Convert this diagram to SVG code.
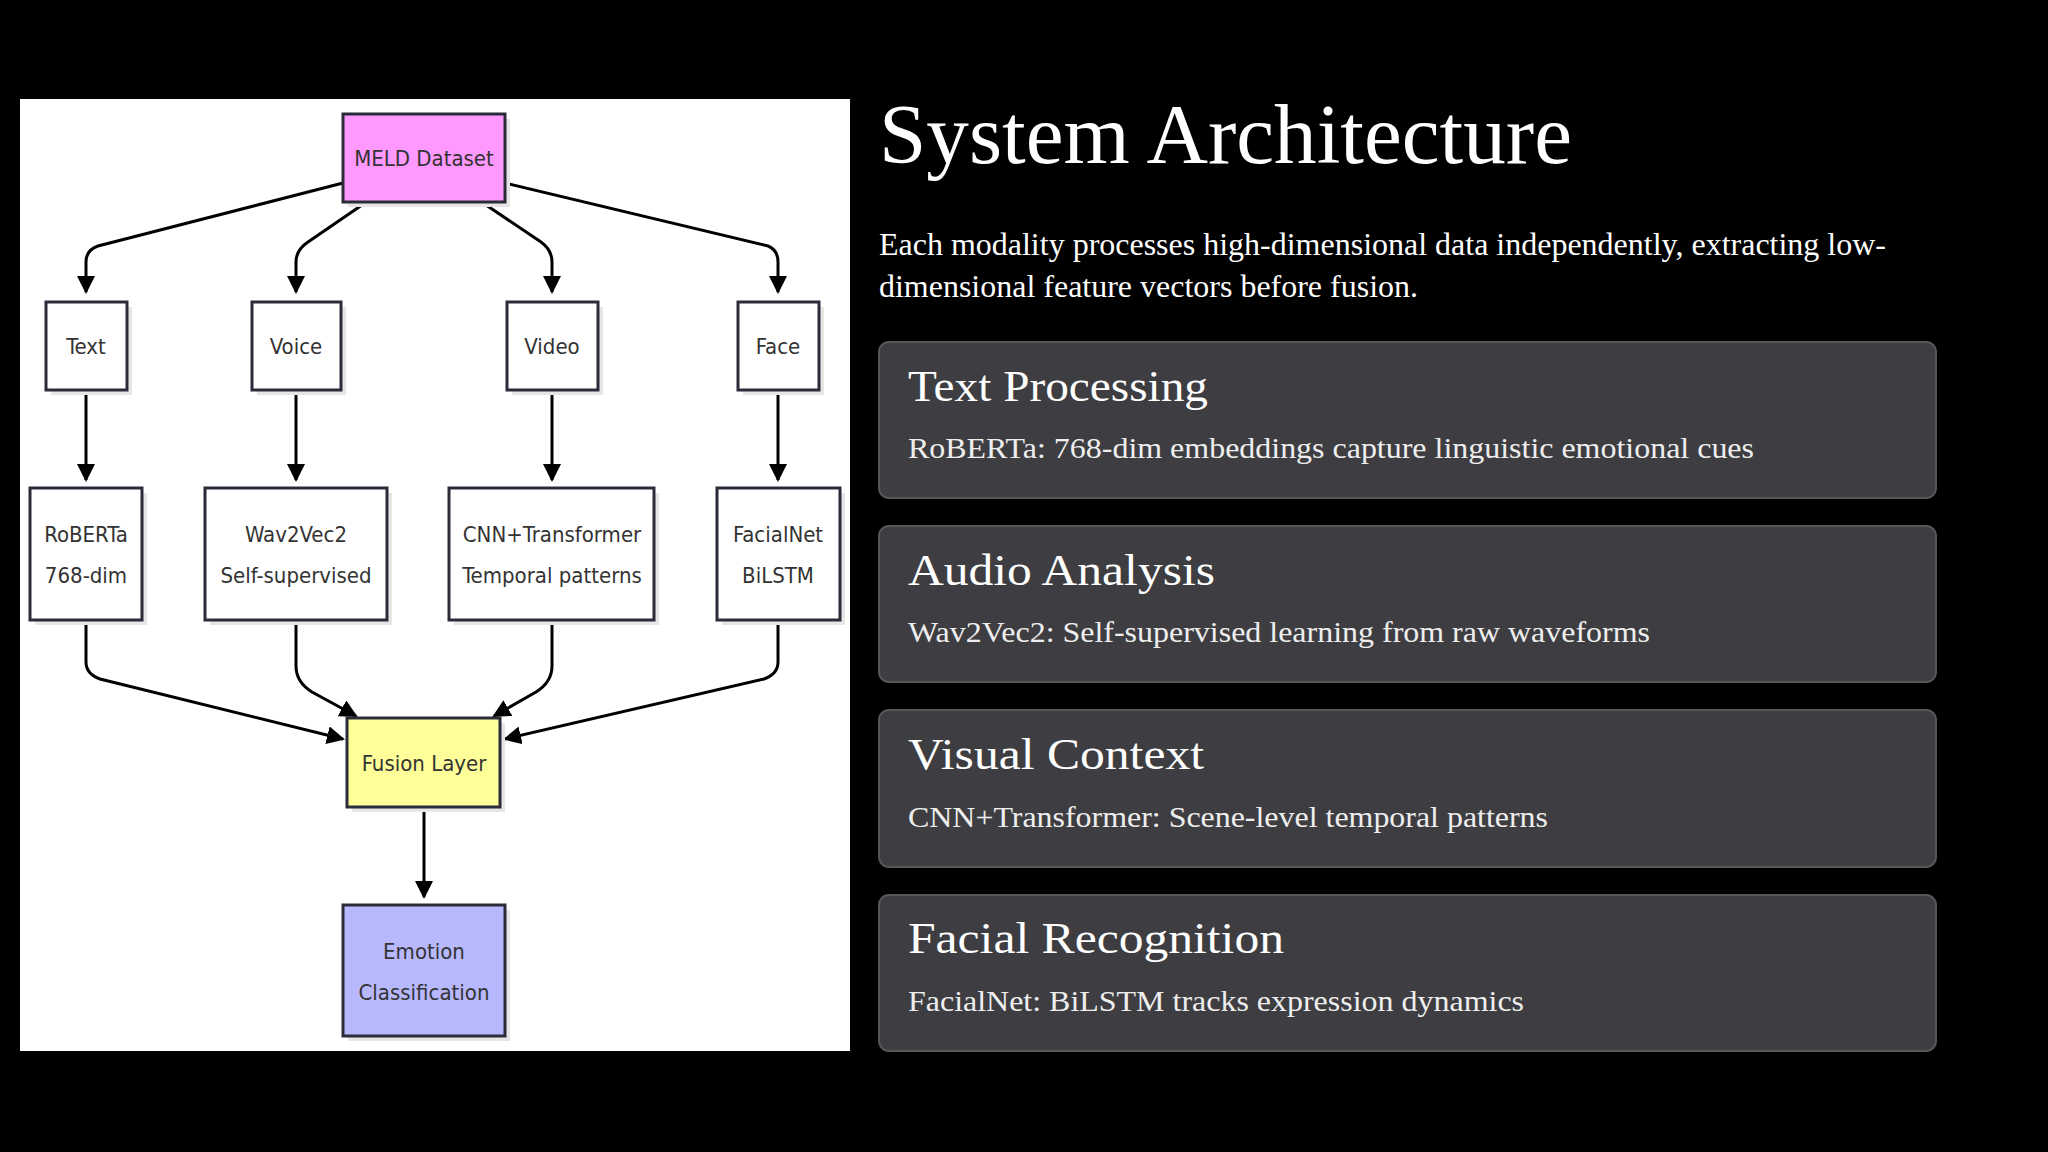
<svg xmlns="http://www.w3.org/2000/svg" width="2048" height="1152" viewBox="0 0 2048 1152">
<defs>
<marker id="ah" markerUnits="userSpaceOnUse" markerWidth="18" markerHeight="18" viewBox="0 0 18 18" refX="16" refY="9" orient="auto"><path d="M0,0 L18,9 L0,18 z" fill="#000"/></marker>
</defs>
<style>
.n rect.b{stroke:#2b2b3a;stroke-width:3}
.n rect.s{fill:#e6e6e6}
.n text{font-family:"DejaVu Sans Condensed","DejaVu Sans",sans-serif;font-stretch:condensed;font-size:22px;fill:#333;text-anchor:middle}
.e path{fill:none;stroke:#000;stroke-width:3;marker-end:url(#ah)}
.card{fill:#3e3e42;stroke:#56565b;stroke-width:2}
.ct{font-family:"Liberation Serif",serif;font-size:44px;fill:#fff}
.cb{font-family:"Liberation Serif",serif;font-size:30px;fill:#eee}
</style>
<rect width="2048" height="1152" fill="#000"/>
<rect x="20" y="99" width="830" height="952" fill="#fff"/>
<g class="e">
<path d="M343,183 L98,246 Q86,250 86,262 L86,292"/>
<path d="M362,205 L308,242 Q296,250 296,262 L296,292"/>
<path d="M486,205 L541,242 Q552,250 552,262 L552,292"/>
<path d="M505,183 L768,246 Q778,250 778,262 L778,292"/>
<path d="M86,390 L86,480"/>
<path d="M296,390 L296,480"/>
<path d="M552,390 L552,480"/>
<path d="M778,390 L778,480"/>
<path d="M86,620 L86,662 Q86,674 100,679 L343,739"/>
<path d="M296,620 L296,666 Q296,682 312,692 L356,716"/>
<path d="M552,620 L552,666 Q552,682 536,692 L494,716"/>
<path d="M778,620 L778,662 Q778,674 764,679 L505,739"/>
<path d="M424,807 L424,897"/>
</g>
<g id="meld" class="n"><rect class="s" x="348" y="119" width="162" height="88"/><rect class="b" x="343" y="114" width="162" height="88" fill="#ff99ff"/><text x="424" y="166">MELD Dataset</text></g>
<g id="text" class="n"><rect class="s" x="51" y="307" width="81" height="88"/><rect class="b" x="46" y="302" width="81" height="88" fill="#fff"/><text x="86" y="354">Text</text></g>
<g id="voice" class="n"><rect class="s" x="257" y="307" width="89" height="88"/><rect class="b" x="252" y="302" width="89" height="88" fill="#fff"/><text x="296" y="354">Voice</text></g>
<g id="video" class="n"><rect class="s" x="512" y="307" width="91" height="88"/><rect class="b" x="507" y="302" width="91" height="88" fill="#fff"/><text x="552" y="354">Video</text></g>
<g id="face" class="n"><rect class="s" x="743" y="307" width="81" height="88"/><rect class="b" x="738" y="302" width="81" height="88" fill="#fff"/><text x="778" y="354">Face</text></g>
<g id="roberta" class="n"><rect class="s" x="35" y="493" width="112" height="132"/><rect class="b" x="30" y="488" width="112" height="132" fill="#fff"/><text x="86" y="542">RoBERTa</text><text x="86" y="583">768-dim</text></g>
<g id="wav2vec2" class="n"><rect class="s" x="210" y="493" width="182" height="132"/><rect class="b" x="205" y="488" width="182" height="132" fill="#fff"/><text x="296" y="542">Wav2Vec2</text><text x="296" y="583">Self-supervised</text></g>
<g id="cnn" class="n"><rect class="s" x="454" y="493" width="205" height="132"/><rect class="b" x="449" y="488" width="205" height="132" fill="#fff"/><text x="552" y="542">CNN+Transformer</text><text x="552" y="583">Temporal patterns</text></g>
<g id="facialnet" class="n"><rect class="s" x="722" y="493" width="123" height="132"/><rect class="b" x="717" y="488" width="123" height="132" fill="#fff"/><text x="778" y="542">FacialNet</text><text x="778" y="583">BiLSTM</text></g>
<g id="fusion" class="n"><rect class="s" x="352" y="723" width="153" height="89"/><rect class="b" x="347" y="718" width="153" height="89" fill="#ffff99"/><text x="424" y="771">Fusion Layer</text></g>
<g id="emotion" class="n"><rect class="s" x="348" y="910" width="162" height="131"/><rect class="b" x="343" y="905" width="162" height="131" fill="#b8b8ff"/><text x="424" y="959">Emotion</text><text x="424" y="1000">Classification</text></g>
<text x="879" y="163" font-family="Liberation Serif,serif" font-size="84" fill="#fff" textLength="693" lengthAdjust="spacingAndGlyphs">System Architecture</text>
<text x="879" y="255" font-family="Liberation Serif,serif" font-size="31" fill="#fff" textLength="1007" lengthAdjust="spacingAndGlyphs">Each modality processes high-dimensional data independently, extracting low-</text>
<text x="879" y="297" font-family="Liberation Serif,serif" font-size="31" fill="#fff" textLength="539" lengthAdjust="spacingAndGlyphs">dimensional feature vectors before fusion.</text>
<g id="card1"><rect class="card" x="879" y="342" width="1057" height="156" rx="10"/><text class="ct" x="908" y="401" textLength="300" lengthAdjust="spacingAndGlyphs">Text Processing</text><text class="cb" x="908" y="458" textLength="846" lengthAdjust="spacingAndGlyphs">RoBERTa: 768-dim embeddings capture linguistic emotional cues</text></g>
<g id="card2"><rect class="card" x="879" y="526" width="1057" height="156" rx="10"/><text class="ct" x="908" y="585" textLength="307" lengthAdjust="spacingAndGlyphs">Audio Analysis</text><text class="cb" x="908" y="642" textLength="742" lengthAdjust="spacingAndGlyphs">Wav2Vec2: Self-supervised learning from raw waveforms</text></g>
<g id="card3"><rect class="card" x="879" y="710" width="1057" height="157" rx="10"/><text class="ct" x="908" y="769" textLength="296" lengthAdjust="spacingAndGlyphs">Visual Context</text><text class="cb" x="908" y="827" textLength="640" lengthAdjust="spacingAndGlyphs">CNN+Transformer: Scene-level temporal patterns</text></g>
<g id="card4"><rect class="card" x="879" y="895" width="1057" height="156" rx="10"/><text class="ct" x="908" y="953" textLength="376" lengthAdjust="spacingAndGlyphs">Facial Recognition</text><text class="cb" x="908" y="1011" textLength="616" lengthAdjust="spacingAndGlyphs">FacialNet: BiLSTM tracks expression dynamics</text></g>
</svg>
